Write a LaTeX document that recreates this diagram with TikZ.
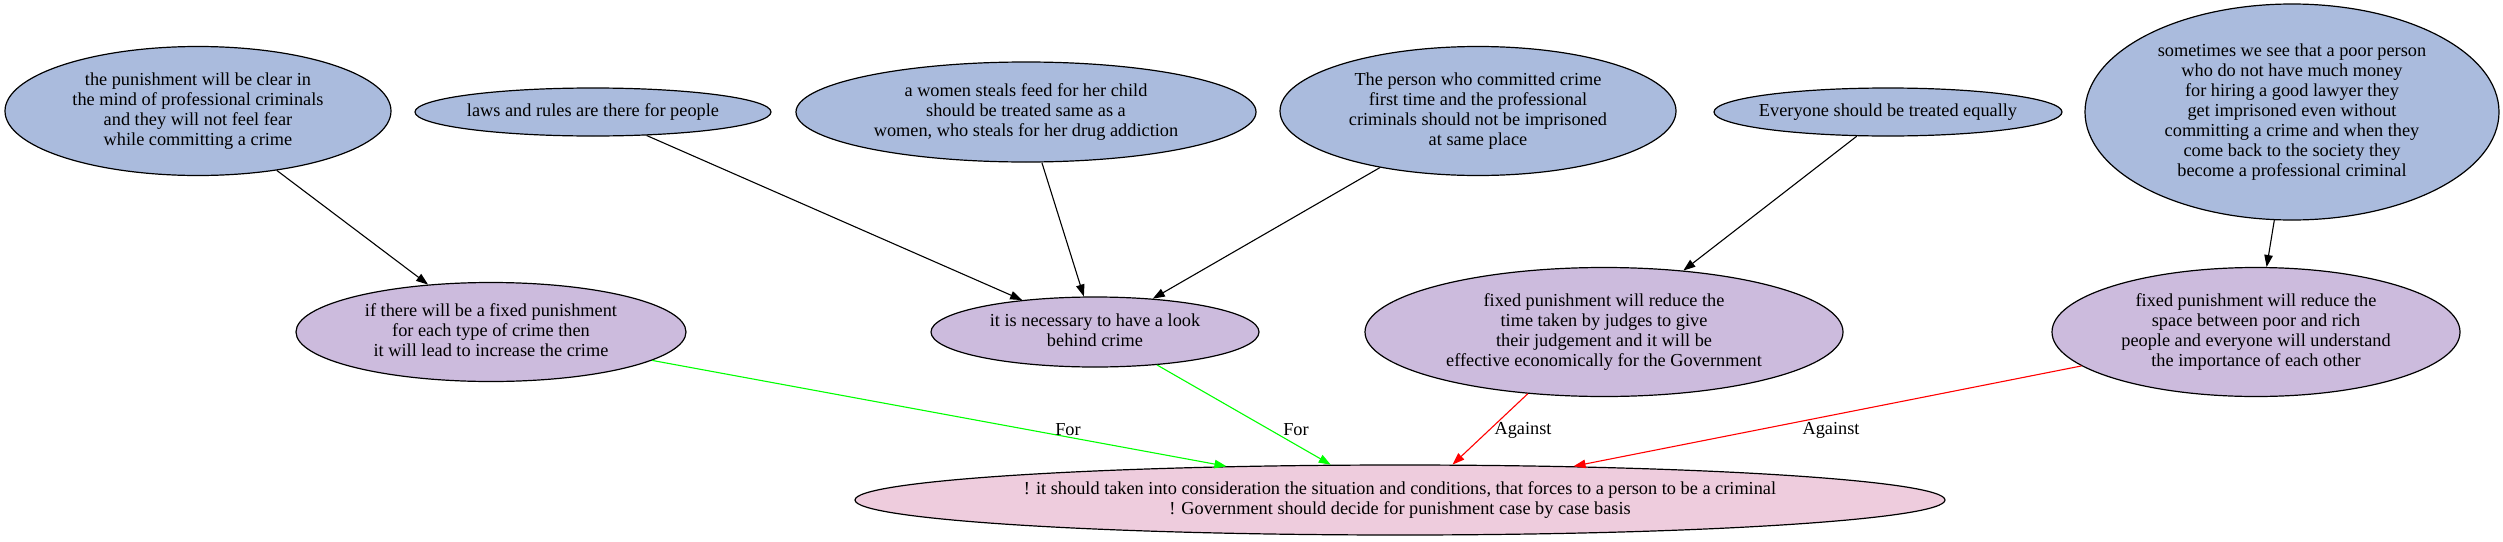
\documentclass[tikz,border=0pt]{standalone}
\usepackage{fontspec}
\setmainfont{Liberation Serif}
\usetikzlibrary{shapes.geometric,arrows.meta}
\definecolor{topc}{HTML}{AABBDD}
\definecolor{midc}{HTML}{CCBBDD}
\definecolor{botc}{HTML}{EECCDD}
\definecolor{forc}{HTML}{00FF00}
\definecolor{agc}{HTML}{FF0000}
\newcommand{\ntext}[1]{\makebox[0pt]{\begin{tabular}{@{}c@{}}#1\end{tabular}}}
\begin{document}
\begin{tikzpicture}[x=1pt,y=-1pt,
  every node/.style={font=\fontsize{18.3}{20}\selectfont},
  ell/.style={ellipse,draw=black,line width=1.2pt,inner sep=0pt},
  topnode/.style={ell,fill=topc},
  midnode/.style={ell,fill=midc},
  botnode/.style={ell,fill=botc},
  conn/.style={line width=1.1pt,-{Triangle[length=12pt,width=8.5pt]}},
  forconn/.style={conn,draw=forc},
  agconn/.style={conn,draw=agc},
  lab/.style={inner sep=1pt}
]
\useasboundingbox (0,0) rectangle (2503,541);
% top row
\node[topnode,minimum width=386pt,minimum height=129pt] (t1) at (198,111)
  {\ntext{the punishment will be clear in\\the mind of professional criminals\\and they will not feel fear\\while committing a crime}};
\node[topnode,minimum width=356pt,minimum height=48pt] (t2) at (593,112)
  {\ntext{laws and rules are there for people}};
\node[topnode,minimum width=460pt,minimum height=100pt] (t3) at (1026,112)
  {\ntext{a women steals feed for her child\\should be treated same as a\\women, who steals for her drug addiction}};
\node[topnode,minimum width=396pt,minimum height=129pt] (t4) at (1478,111)
  {\ntext{The person who committed crime\\first time and the professional\\criminals should not be imprisoned\\at same place}};
\node[topnode,minimum width=348pt,minimum height=48pt] (t5) at (1888,112)
  {\ntext{Everyone should be treated equally}};
\node[topnode,minimum width=414pt,minimum height=216pt] (t6) at (2292,112)
  {\ntext{sometimes we see that a poor person\\who do not have much money\\for hiring a good lawyer they\\get imprisoned even without\\committing a crime and when they\\come back to the society they\\become a professional criminal}};
% middle row
\node[midnode,minimum width=390pt,minimum height=99pt] (m1) at (491,332)
  {\ntext{if there will be a fixed punishment\\for each type of crime then\\it will lead to increase the crime}};
\node[midnode,minimum width=328pt,minimum height=70pt] (m2) at (1095,332)
  {\ntext{it is necessary to have a look\\behind crime}};
\node[midnode,minimum width=478pt,minimum height=129pt] (m3) at (1604,332)
  {\ntext{fixed punishment will reduce the\\time taken by judges to give\\their judgement and it will be\\effective economically for the Government}};
\node[midnode,minimum width=408pt,minimum height=129pt] (m4) at (2256,332)
  {\ntext{fixed punishment will reduce the\\space between poor and rich\\people and everyone will understand\\the importance of each other}};
% bottom
\node[botnode,minimum width=1090pt,minimum height=70pt] (b) at (1400,500)
  {\ntext{! it should taken into consideration the situation and conditions, that forces to a person to be a criminal\\! Government should decide for punishment case by case basis}};
% black edges
\draw[conn] (t1) -- (m1);
\draw[conn] (t2) -- (m2);
\draw[conn] (t3) -- (m2);
\draw[conn] (t4) -- (m2);
\draw[conn] (t5) -- (m3);
\draw[conn] (t6) -- (m4);
% coloured edges
\draw[forconn] (m1.-10) -- (b.169.7) node[lab,at={(1068,430)}] {For};
\draw[forconn] (m2.-28.8) -- (b.153.4) node[lab,at={(1296,430)}] {For};
\draw[agconn] (m3.-141.7) -- (b.34.8) node[lab,at={(1523,430)}] {Against};
\draw[agconn] (m4.191.1) -- (b.11.1) node[lab,at={(1831,430)}] {Against};
\end{tikzpicture}
\end{document}
